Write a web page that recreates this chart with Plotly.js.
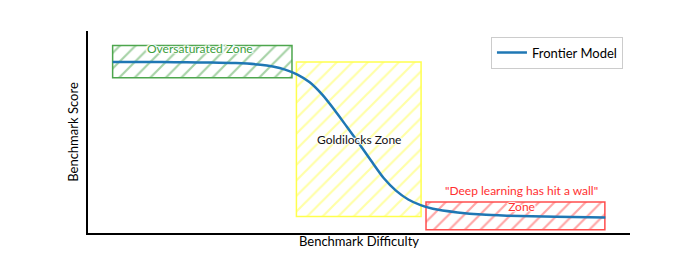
<!DOCTYPE html>
<html>
<head>
<meta charset="utf-8">
<script src="https://cdn.plot.ly/plotly-3.0.1.min.js"></script>
<style>html,body{margin:0;padding:0;background:#fff;}#chart{width:700px;height:262px;}</style>
</head>
<body>
<div id="chart"></div>
<script>
// Frontier model curve (benchmark difficulty vs score)
const difficulty = [0, 0.5, 1, 1.5, 2, 2.5, 3, 3.25, 3.5, 3.75, 4, 4.25, 4.5, 4.75, 5, 5.25, 5.5, 5.75, 6, 6.25, 6.5, 7, 7.5, 8, 9, 10];
const score      = [84.7, 84.7, 84.6, 84.5, 84.4, 84.1, 83.3, 82.4, 80.9, 78.4, 74.6, 68.6, 61, 52.7, 44.3, 35.6, 27.2, 21, 16.6, 13.8, 12, 10.2, 9.1, 8.6, 8.0, 7.7];

// Zones: [x start, x end], [y bottom, y top]
const zoneNames  = ["Oversaturated Zone", "Goldilocks Zone", "\"Deep learning has hit a wall\"<br>Zone"];
const zoneX0     = [0, 3.73, 6.36];
const zoneX1     = [3.64, 6.26, 9.99];
const zoneY0     = [76.8, 8.2, 1.6];
const zoneY1     = [92.8, 84.7, 15.3];
const zoneColors = ["#4da64d", "#ffff4d", "#ff4d4d"];
const labelColors = ["#3d9e3d", "#111111", "#ff3030"];
const labelX     = [1.78, 5.0, 8.3];
const labelY     = [91.3, 46.4, 17.0];

const font = "Lato, 'Open Sans', sans-serif";
const halo = "1px 0 1px #fff, -1px 0 1px #fff, 0 1px 1px #fff, 0 -1px 1px #fff, 2px 0 1px #fff, -2px 0 1px #fff";

const traces = [];
for (let i = 0; i < zoneNames.length; i++) {
  traces.push({
    type: "bar",
    x: [(zoneX0[i] + zoneX1[i]) / 2],
    width: [zoneX1[i] - zoneX0[i]],
    base: [zoneY0[i]],
    y: [zoneY1[i] - zoneY0[i]],
    marker: {
      color: "rgba(0,0,0,0)",
      line: {color: zoneColors[i], width: 1.5},
      pattern: {shape: "/", fgcolor: zoneColors[i], bgcolor: "rgba(0,0,0,0)", fillmode: "overlay", size: 11, solidity: 0.2}
    },
    showlegend: false,
    hoverinfo: "skip"
  });
}
traces.push({
  type: "scatter",
  mode: "lines",
  x: difficulty,
  y: score,
  name: "Frontier Model",
  line: {color: "#1f77b4", width: 2.5, shape: "spline", smoothing: 0.6}
});

const annotations = zoneNames.map((t, i) => ({
  x: labelX[i], y: labelY[i], xref: "x", yref: "y",
  text: t, showarrow: false,
  font: {family: font, size: 12, color: labelColors[i], shadow: halo}
}));

const layout = {
  width: 700, height: 262,
  margin: {l: 88, r: 70, t: 31, b: 29},
  paper_bgcolor: "#fff", plot_bgcolor: "#fff",
  barmode: "overlay",
  font: {family: font, size: 12, color: "#000"},
  xaxis: {
    range: [-0.5, 10.5], showgrid: false, zeroline: false,
    showticklabels: false, ticks: "",
    showline: true, linecolor: "#000", linewidth: 2,
    title: {text: "Benchmark Difficulty", standoff: 3, font: {family: font, size: 13, color: "#000"}}
  },
  yaxis: {
    range: [0, 100], showgrid: false, zeroline: false,
    showticklabels: false, ticks: "",
    showline: true, linecolor: "#000", linewidth: 2,
    title: {text: "Benchmark Score", standoff: 4, font: {family: font, size: 13, color: "#000"}}
  },
  legend: {
    x: 0.987, y: 0.972, xanchor: "right", yanchor: "top",
    bgcolor: "#fff", bordercolor: "#cccccc", borderwidth: 1,
    font: {family: font, size: 13, color: "#000"}
  },
  annotations: annotations,
  showlegend: true
};

Plotly.newPlot("chart", traces, layout, {displayModeBar: false, staticPlot: true});
</script>
</body>
</html>
